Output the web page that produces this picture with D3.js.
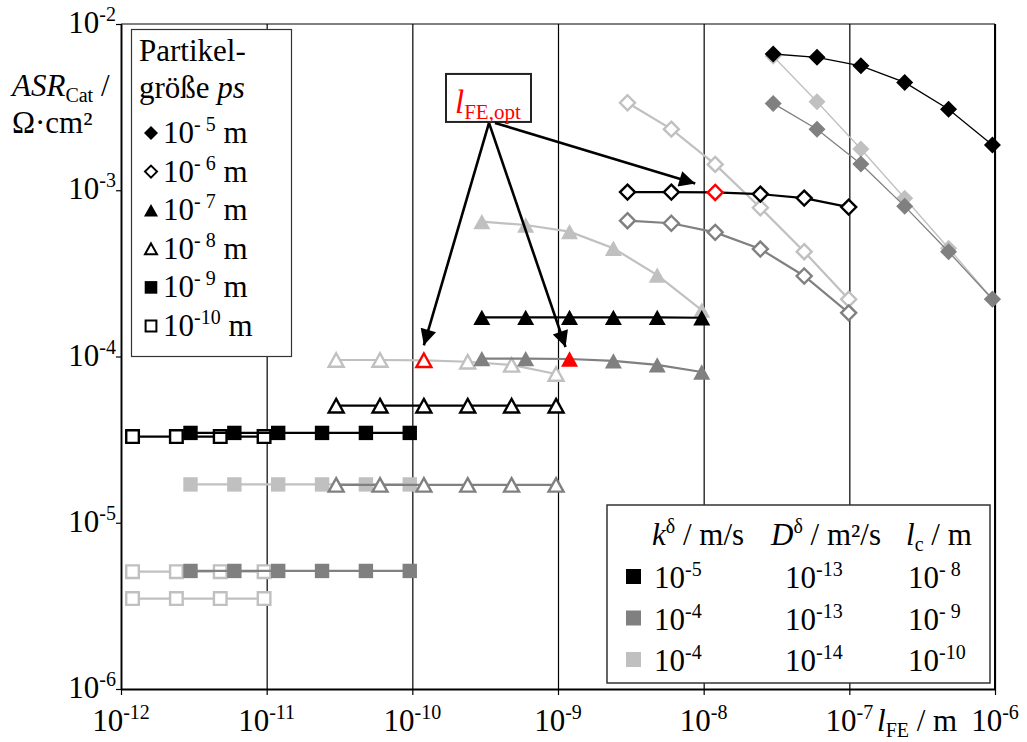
<!DOCTYPE html>
<html>
<head>
<meta charset="utf-8">
<script src="https://cdn.jsdelivr.net/npm/d3@7"></script>
<style>
body { margin: 0; background: #fff; }
</style>
</head>
<body>
<script>
//Chart size and plot frame
var W = 1027;
var H = 742;
var Left = 121, Right = 995, Top = 24, Bottom = 689;
var FS = 31, SUP = 20;
var FONT = "'Liberation Serif', Tinos, 'Times New Roman', 'DejaVu Serif', serif";

//l_FE values (x) for each particle size ps
var lfe5  = [3e-8, 6e-8, 1.2e-7, 2.4e-7, 4.8e-7, 9.6e-7];
var lfe6  = [3e-9, 6e-9, 1.2e-8, 2.45e-8, 4.9e-8, 9.9e-8];
var lfe7  = [3e-10, 6e-10, 1.2e-9, 2.4e-9, 4.8e-9, 9.7e-9];
var lfe8  = [3e-11, 6e-11, 1.2e-10, 2.4e-10, 4.8e-10, 9.7e-10];
var lfe9  = [3e-12, 6e-12, 1.2e-11, 2.4e-11, 4.8e-11, 9.6e-11];
var lfe10 = [1.2e-12, 2.4e-12, 4.8e-12, 9.6e-12];

//ASR_Cat values (y), one list per ps and parameter set
var asr5Black = [6.6e-3, 6.3e-3, 5.6e-3, 4.45e-3, 3.07e-3, 1.87e-3];
var asr5Gray  = [3.33e-3, 2.33e-3, 1.44e-3, 8.0e-4, 4.27e-4, 2.21e-4];
var asr5Light = [6.4e-3, 3.41e-3, 1.77e-3, 8.95e-4, 4.48e-4, 2.22e-4];
var asr6Black = [9.75e-4, 9.75e-4, 9.7e-4, 9.48e-4, 8.97e-4, 7.92e-4];
var asr6Gray  = [6.56e-4, 6.33e-4, 5.58e-4, 4.43e-4, 3.05e-4, 1.83e-4];
var asr6Light = [3.36e-3, 2.33e-3, 1.43e-3, 7.85e-4, 4.27e-4, 2.21e-4];
var asr7Black = [1.72e-4, 1.72e-4, 1.72e-4, 1.72e-4, 1.72e-4, 1.71e-4];
var asr7Gray  = [9.72e-5, 9.72e-5, 9.66e-5, 9.4e-5, 8.9e-5, 8.07e-5];
var asr7Light = [6.47e-4, 6.18e-4, 5.64e-4, 4.48e-4, 3.09e-4, 1.9e-4];
var asr8Black = [5.06e-5, 5.06e-5, 5.06e-5, 5.06e-5, 5.06e-5, 5.06e-5];
var asr8Gray  = [1.69e-5, 1.69e-5, 1.69e-5, 1.69e-5, 1.69e-5, 1.69e-5];
var asr8Light = [9.53e-5, 9.53e-5, 9.49e-5, 9.3e-5, 8.9e-5, 7.85e-5];
var asr9Black = [3.47e-5, 3.47e-5, 3.47e-5, 3.47e-5, 3.47e-5, 3.47e-5];
var asr9Gray  = [5.13e-6, 5.13e-6, 5.13e-6, 5.13e-6, 5.13e-6, 5.13e-6];
var asr9Light = [1.70e-5, 1.70e-5, 1.70e-5, 1.70e-5, 1.70e-5, 1.70e-5];
var asr10Black = [3.3e-5, 3.3e-5, 3.3e-5, 3.3e-5];
var asr10Gray  = [5.08e-6, 5.08e-6, 5.08e-6, 5.08e-6];
var asr10Light = [3.5e-6, 3.5e-6, 3.5e-6, 3.5e-6];

//Axis ticks and labels
var xTicks = [1e-12, 1e-11, 1e-10, 1e-9, 1e-8, 1e-7, 1e-6];
var xTickExp = ["-12", "-11", "-10", "-9", "-8", "-7", "-6"];
var yTicks = [1e-6, 1e-5, 1e-4, 1e-3, 1e-2];
var yTickExp = ["-6", "-5", "-4", "-3", "-2"];

//Legend texts
var psLabels = ["- 5", "- 6", "- 7", "- 8", "- 9", "-10"];
var psShapes = ["diamond", "diamond", "triangle", "triangle", "square", "square"];
var psOpen = [false, true, false, true, false, true];
var kLabels = ["-5", "-4", "-4"];
var dLabels = ["-13", "-13", "-14"];
var lcLabels = ["- 8", "- 9", "-10"];

//Position of the l_FE,opt annotation (data space) and the optimum point index
var optAnchor = [3.36e-10, 2.54e-3];
var optIndex = 2;

var Black = "#000000", Gray = "#808080", Light = "#c0c0c0", Red = "#ff0000";
var setColors = [Black, Gray, Light];

function makeSVG(loc) {
  //Creates svg and returns it
  return d3.select(loc).append("svg")
    .attr("width", W).attr("height", H)
    .attr("font-family", FONT)
    .style("display", "block");
}

function shapePath(shape, s) {
  //Marker path centred on its bounding box
  if (shape == "diamond")
    return "M0," + (-s) + "L" + s + ",0L0," + s + "L" + (-s) + ",0Z";
  if (shape == "triangle")
    return "M0," + (-s * 0.9) + "L" + s + "," + (s * 0.9) + "L" + (-s) + "," + (s * 0.9) + "Z";
  return "M" + (-s * 0.9) + "," + (-s * 0.9) + "h" + (s * 1.8) + "v" + (s * 1.8) + "h" + (-s * 1.8) + "Z";
}

function richText(g, x, y, parts, anchor, color, size, small) {
  //Text with superscript / subscript / italic parts
  var t = g.append("text").attr("x", x).attr("y", y)
    .attr("font-family", FONT)
    .attr("font-size", size || FS).attr("text-anchor", anchor || "start")
    .attr("fill", color || Black).style("white-space", "pre");
  var shift = 0;
  parts.forEach(function(p) {
    var want = p.sup ? -12 : (p.sub ? 6 : 0);
    var s = t.append("tspan").attr("dy", want - shift).text(p.t);
    if (p.sup || p.sub) s.attr("font-size", small || SUP);
    if (p.it) s.attr("font-style", "italic");
    shift = want;
  });
  return t;
}

function main() {
  var svg = makeSVG("body");
  svg.append("rect").attr("width", W).attr("height", H).attr("fill", "#fff");

  var xScale = d3.scaleLog().domain([1e-12, 1e-6]).range([Left, Right]);
  var yScale = d3.scaleLog().domain([1e-6, 1e-2]).range([Bottom, Top]);

  //Vertical gridlines
  svg.append("g")
    .attr("transform", "translate(0," + Bottom + ")")
    .call(d3.axisBottom(xScale).tickValues(xTicks).tickFormat("").tickSize(-(Bottom - Top)).tickSizeOuter(0))
    .call(function(g) {
      g.select(".domain").remove();
      g.selectAll("line").attr("stroke", Black).attr("stroke-width", 1.2);
    });

  //Frame: top and right border
  svg.append("line").attr("x1", Left).attr("x2", Right).attr("y1", Top).attr("y2", Top)
    .attr("stroke", Black).attr("stroke-width", 1.2);
  svg.append("line").attr("x1", Right).attr("x2", Right).attr("y1", Top).attr("y2", Bottom)
    .attr("stroke", Black).attr("stroke-width", 2);

  //Axes with outside ticks
  var xAxis = svg.append("g")
    .attr("transform", "translate(0," + Bottom + ")")
    .call(d3.axisBottom(xScale).tickValues(xTicks).tickFormat("").tickSize(6).tickSizeOuter(0));
  var yAxis = svg.append("g")
    .attr("transform", "translate(" + Left + ",0)")
    .call(d3.axisLeft(yScale).tickValues(yTicks).tickFormat("").tickSize(5).tickSizeOuter(0));
  [xAxis, yAxis].forEach(function(a) {
    a.select(".domain").attr("stroke", Black).attr("stroke-width", 1.8);
    a.selectAll(".tick line").attr("stroke", Black).attr("stroke-width", 1.2);
  });

  //Tick labels
  xTicks.forEach(function(v, i) {
    richText(svg, xScale(v), 731, [{t: "10"}, {t: xTickExp[i], sup: true}], "middle");
  });
  yTicks.forEach(function(v, i) {
    richText(svg, 116, yScale(v) + 9, [{t: "10"}, {t: yTickExp[i], sup: true}], "end");
  });

  //Axis titles
  richText(svg, 12, 96, [{t: "ASR", it: true}, {t: "Cat", sub: true}, {t: " /"}]);
  richText(svg, 12, 133, [{t: "\u03A9\u00B7cm\u00B2"}]);
  richText(svg, 877, 731, [{t: "l", it: true}, {t: "FE", sub: true}, {t: " / m"}]);

  //Series table, drawn from the smallest to the largest particle size
  var table = [
    {x: lfe10, y: asr10Light, shape: "square", open: true, col: Light},
    {x: lfe10, y: asr10Gray, shape: "square", open: true, col: Light},
    {x: lfe10, y: asr10Black, shape: "square", open: true, col: Black},
    {x: lfe9, y: asr9Light, shape: "square", open: false, col: Light},
    {x: lfe9, y: asr9Gray, shape: "square", open: false, col: Gray},
    {x: lfe9, y: asr9Black, shape: "square", open: false, col: Black},
    {x: lfe8, y: asr8Light, shape: "triangle", open: true, col: Light, opt: true},
    {x: lfe8, y: asr8Gray, shape: "triangle", open: true, col: Gray},
    {x: lfe8, y: asr8Black, shape: "triangle", open: true, col: Black},
    {x: lfe7, y: asr7Light, shape: "triangle", open: false, col: Light},
    {x: lfe7, y: asr7Gray, shape: "triangle", open: false, col: Gray, opt: true},
    {x: lfe7, y: asr7Black, shape: "triangle", open: false, col: Black},
    {x: lfe6, y: asr6Light, shape: "diamond", open: true, col: Light},
    {x: lfe6, y: asr6Gray, shape: "diamond", open: true, col: Gray},
    {x: lfe6, y: asr6Black, shape: "diamond", open: true, col: Black, opt: true},
    {x: lfe5, y: asr5Light, shape: "diamond", open: false, col: Light},
    {x: lfe5, y: asr5Gray, shape: "diamond", open: false, col: Gray},
    {x: lfe5, y: asr5Black, shape: "diamond", open: false, col: Black}
  ];

  var line = d3.line()
    .x(function(d) { return xScale(d[0]); })
    .y(function(d) { return yScale(d[1]); });

  var optPoints = [];
  table.forEach(function(s) {
    var pts = s.x.map(function(v, i) { return [v, s.y[i], i]; });
    var g = svg.append("g");
    g.append("path").datum(pts).attr("d", line)
      .attr("fill", "none").attr("stroke", s.col)
      .attr("stroke-width", s.shape == "diamond" && !s.open ? 1.3 : 2.2);
    var size = s.shape == "square" ? 8 : (s.shape == "triangle" ? 8.5 : 8.5);
    g.selectAll(".m").data(pts).enter().append("path")
      .attr("transform", function(d) { return "translate(" + xScale(d[0]) + "," + yScale(d[1]) + ")"; })
      .attr("d", shapePath(s.shape, s.open ? size - 1 : size))
      .attr("fill", function(d) {
        if (s.open) return "#fff";
        return (s.opt && d[2] == optIndex) ? Red : s.col;
      })
      .attr("stroke", function(d) {
        if (!s.open) return "none";
        return (s.opt && d[2] == optIndex) ? Red : s.col;
      })
      .attr("stroke-width", 2.4);
    if (s.opt) optPoints.push(pts[optIndex]);
  });

  //Legend for particle size
  var lg = svg.append("g");
  lg.append("rect").attr("x", 131.5).attr("y", 29.5).attr("width", 160).attr("height", 327)
    .attr("fill", "#fff").attr("stroke", "#333").attr("stroke-width", 1.2);
  richText(lg, 139, 61, [{t: "Partikel-"}]);
  richText(lg, 139, 98, [{t: "größe "}, {t: "ps", it: true}]);
  psLabels.forEach(function(l, i) {
    var y = 143 + i * 38.6;
    lg.append("path")
      .attr("transform", "translate(151," + (y - 10) + ")")
      .attr("d", shapePath(psShapes[i], psOpen[i] ? 6 : 7))
      .attr("fill", psOpen[i] ? "#fff" : Black)
      .attr("stroke", psOpen[i] ? Black : "none").attr("stroke-width", 2);
    richText(lg, 163, y, [{t: "10"}, {t: l, sup: true}, {t: " m"}]);
  });

  //Legend for parameter sets
  var pg = svg.append("g");
  pg.append("rect").attr("x", 607).attr("y", 505).attr("width", 383).attr("height", 178)
    .attr("fill", "#fff").attr("stroke", "#333").attr("stroke-width", 1.5);
  richText(pg, 652, 545, [{t: "k", it: true}, {t: "\u03B4", sup: true}, {t: " / m/s"}]);
  richText(pg, 771, 545, [{t: "D", it: true}, {t: "\u03B4", sup: true}, {t: " / m\u00B2/s"}]);
  richText(pg, 906, 545, [{t: "l", it: true}, {t: "c", sub: true}, {t: " / m"}]);
  setColors.forEach(function(c, i) {
    var y = 588 + i * 41.5;
    pg.append("rect").attr("x", 626).attr("y", y - 19).attr("width", 15).attr("height", 15).attr("fill", c);
    richText(pg, 654, y, [{t: "10"}, {t: kLabels[i], sup: true}]);
    richText(pg, 785, y, [{t: "10"}, {t: dLabels[i], sup: true}]);
    richText(pg, 908, y, [{t: "10"}, {t: lcLabels[i], sup: true}]);
  });

  //l_FE,opt annotation with arrows
  var ax = xScale(optAnchor[0]), ay = yScale(optAnchor[1]);
  var ag = svg.append("g");
  ag.append("defs").append("marker")
    .attr("id", "head").attr("viewBox", "0 0 10 10")
    .attr("refX", 10).attr("refY", 5)
    .attr("markerWidth", 21).attr("markerHeight", 16)
    .attr("markerUnits", "userSpaceOnUse").attr("orient", "auto")
    .append("path").attr("d", "M0,0L10,5L0,10Z").attr("fill", Black);
  ag.append("rect").attr("x", ax - 43).attr("y", ay - 49).attr("width", 85).attr("height", 48)
    .attr("fill", "#fff").attr("stroke", "#222").attr("stroke-width", 2);
  richText(ag, ax - 34, ay - 10, [{t: "l", it: true}, {t: "FE,opt", sub: true}], "start", Red, 33, 21);
  var tipOffsets = [[0, -15], [-4, -12], [-20, -9]];
  var starts = [[0, 0], [0, 0], [6, 0]];
  optPoints.forEach(function(p, i) {
    ag.append("line")
      .attr("x1", ax + starts[i][0]).attr("y1", ay + starts[i][1])
      .attr("x2", xScale(p[0]) + tipOffsets[i][0]).attr("y2", yScale(p[1]) + tipOffsets[i][1])
      .attr("stroke", Black).attr("stroke-width", 2.6)
      .attr("marker-end", "url(#head)");
  });
}

main();
</script>
</body>
</html>
